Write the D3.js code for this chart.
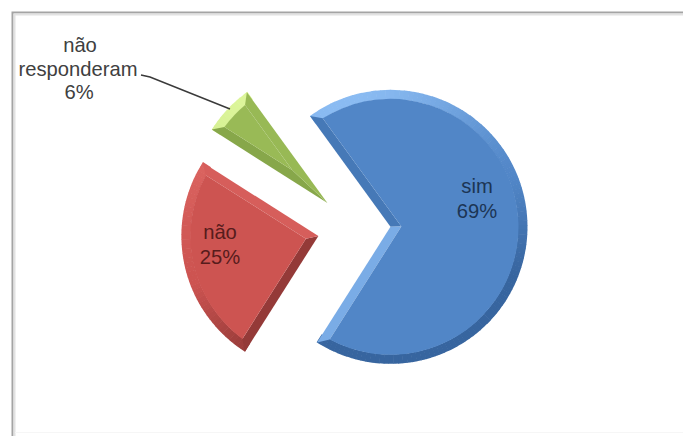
<!DOCTYPE html>
<html>
<head>
<meta charset="utf-8">
<script src="https://cdn.jsdelivr.net/npm/d3@7/dist/d3.min.js"></script>
<style>
html,body{margin:0;padding:0;background:#fff}
svg{display:block}
text{font-family:"Liberation Sans",Arial,sans-serif;font-size:20.2px;text-anchor:middle}
</style>
</head>
<body>
<svg id="chart" width="683" height="436"></svg>
<script>
// Survey answers and their share of responses
const categoryLines = [["sim"], ["não"], ["não", "responderam"]];
const shares = [69, 25, 6];
const percentLabels = shares.map(v => v + "%");

// Face and bevel colours per answer
const faceColors = ["#5186c7", "#cd5451", "#99ba56"];
const lightColors = ["#8abbf2", "#e06a66", "#dcf59a"];
const darkColors = ["#37659f", "#943a38", "#779640"];
const textColors = ["#1c3554", "#571c1c", "#404040"];

// Direction of the light on each slice's bevel
const lightDirs = [[-0.35, -0.94], [-0.35, -0.94], [-0.6, -0.8]];

// Pixel position of every text line, per slice
const labelPositions = [
  [[477, 193], [477, 218]],
  [[220, 239], [220, 264]],
  [[80, 52], [78, 75.5], [79, 99]]
];

const svg = d3.select("#chart");
const cx = 354, cy = 228, radius = 137, explode = 36.5, bevel = 9;

// Chart frame: a soft grey edge along the top and left, a faint one at the bottom
const frame = svg.append("g").attr("fill", "none");
frame.append("path").attr("d", "M683,12.5H12.5V436").attr("stroke", "#a4a4a4").attr("stroke-width", 2);
frame.append("path").attr("d", "M683,14.5H14.5V436").attr("stroke", "#e2e2e2").attr("stroke-width", 2);
frame.append("path").attr("d", "M15,432.5H683").attr("stroke", "#f6f6f6").attr("stroke-width", 1);

const pie = d3.pie().sort(null)
  .startAngle(-36 * Math.PI / 180)
  .endAngle(324 * Math.PI / 180);
const arcs = pie(shares);

// Bevel shade from a facet's outward normal
function shade(i, nx, ny) {
  const d = nx * lightDirs[i][0] + ny * lightDirs[i][1];
  return d >= 0
    ? d3.interpolateRgb(faceColors[i], lightColors[i])(Math.pow(d, 1.5))
    : d3.interpolateRgb(faceColors[i], darkColors[i])(Math.min(1, -d * 1.5));
}

// Angles are clockwise from north, as in d3.arc
const polar = (a, r) => [r * Math.sin(a), -r * Math.cos(a)];

const slices = svg.selectAll("g.slice").data(arcs).join("g")
  .attr("class", "slice")
  .attr("transform", d => {
    const [dx, dy] = polar((d.startAngle + d.endAngle) / 2, explode);
    return `translate(${cx + dx},${cy + dy})`;
  });

slices.each(function (d, i) {
  const g = d3.select(this);
  const a0 = d.startAngle, a1 = d.endAngle;
  const mid = (a0 + a1) / 2, half = (a1 - a0) / 2;
  const delta = Math.asin(bevel / (radius - bevel));
  const inner = radius - bevel;
  const apex = polar(mid, bevel / Math.sin(half));

  // Rim of the bevel, shaded in short arc steps
  const stepArc = d3.arc().innerRadius(inner - 0.5).outerRadius(radius);
  const steps = Math.ceil((a1 - a0) / (2 * Math.PI / 180));
  d3.range(steps).forEach(k => {
    const s = a0 + (a1 - a0) * k / steps;
    const e = a0 + (a1 - a0) * (k + 1) / steps;
    const [nx, ny] = polar((s + e) / 2, 1);
    g.append("path")
      .attr("d", stepArc({startAngle: s, endAngle: e + 0.004}))
      .attr("fill", shade(i, nx, ny));
  });

  // Straight bevels along both radial edges
  const edge = (a, aIn, sign) => {
    const [nx, ny] = polar(a + sign * Math.PI / 2, 1);
    const pts = [[0, 0], polar(a, radius), polar(aIn, inner), apex];
    g.append("path")
      .attr("d", d3.line()(pts) + "Z")
      .attr("fill", shade(i, nx, ny));
  };
  edge(a0, a0 + delta, -1);
  edge(a1, a1 - delta, 1);

  // Flat top face of the slice
  const p = d3.path();
  p.moveTo(apex[0], apex[1]);
  const t0 = polar(a0 + delta, inner);
  p.lineTo(t0[0], t0[1]);
  p.arc(0, 0, inner, a0 + delta - Math.PI / 2, a1 - delta - Math.PI / 2);
  p.closePath();
  g.append("path").attr("d", p.toString()).attr("fill", faceColors[i]);
});

// Leader line for the small slice's outside label
const leader = [[141, 75], [150, 77], [230, 109]];
svg.append("path")
  .attr("d", d3.line()(leader))
  .attr("fill", "none")
  .attr("stroke", "#3a3a3a")
  .attr("stroke-width", 1.5);

// Category and percentage labels, one text element per line
categoryLines.forEach((lines, i) => {
  const rows = [...lines, percentLabels[i]];
  svg.append("g").attr("class", "label")
    .selectAll("text").data(rows).join("text")
    .attr("x", (_, k) => labelPositions[i][k][0])
    .attr("y", (_, k) => labelPositions[i][k][1])
    .attr("fill", textColors[i])
    .text(t => t);
});
</script>
</body>
</html>
